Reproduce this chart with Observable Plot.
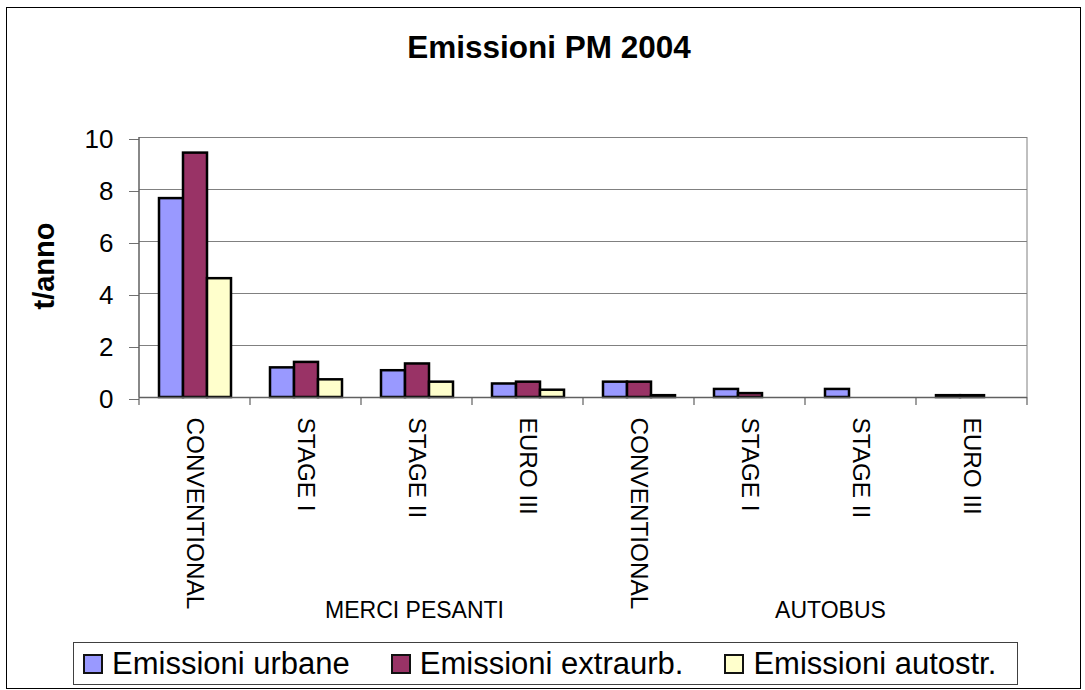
<!DOCTYPE html>
<html><head><meta charset="utf-8">
<script src="https://cdn.jsdelivr.net/npm/d3@7"></script>
<script src="https://cdn.jsdelivr.net/npm/@observablehq/plot@0.6"></script>
<style>
body{margin:0;background:#fff;}
#wrap{position:relative;width:1085px;height:690px;overflow:hidden;font-family:"Liberation Sans",Arial,sans-serif;color:#000;}
#border{position:absolute;left:6px;top:7px;width:1073px;height:680px;border:1px solid #000;}
#title{position:absolute;left:12px;width:1074px;top:32px;text-align:center;font-weight:bold;font-size:31.5px;line-height:31px;white-space:nowrap;}
#ylabel{position:absolute;left:44px;top:266px;transform:translate(-50%,-50%) rotate(-90deg);font-weight:bold;font-size:29px;line-height:29px;white-space:nowrap;}
#chart{position:absolute;left:0;top:0;}
#legend{position:absolute;left:73px;top:642px;width:943px;height:41px;border:1px solid #404040;display:flex;align-items:center;box-sizing:content-box;}
.item{display:flex;align-items:center;font-size:31px;line-height:31px;white-space:nowrap;}
.sw{width:20px;height:20px;box-sizing:border-box;border:2px solid #111;margin-right:9px;}
</style></head><body>
<div id="wrap">
  <div id="border"></div>
  <div id="chart"></div>
  <div id="title">Emissioni PM 2004</div>
  <div id="ylabel">t/anno</div>
  <div id="legend"></div>
</div>
<script>
const categories = ["CONVENTIONAL","STAGE I","STAGE II","EURO III","CONVENTIONAL","STAGE I","STAGE II","EURO III"];
const groups = ["MERCI PESANTI","AUTOBUS"];
const groupAt = [2, 6];
const series = ["Emissioni urbane","Emissioni extraurb.","Emissioni autostr."];
const colors = ["#9999FF","#993366","#FFFFCC"];
const urbane   = [7.65, 1.14, 1.03, 0.52, 0.59, 0.31, 0.31, 0.07];
const extraurb = [9.40, 1.35, 1.29, 0.59, 0.59, 0.15, 0.00, 0.07];
const autostr  = [4.57, 0.68, 0.59, 0.28, 0.07, 0.00, 0.00, 0.00];
const yTicks = [0, 2, 4, 6, 8, 10];

const seriesValues = [urbane, extraurb, autostr];
const rows = [];
categories.forEach((c, i) => {
  seriesValues.forEach((arr, j) => rows.push({ci: i, series: series[j], value: arr[i]}));
});
const groupRows = groups.map((g, i) => ({label: g, at: groupAt[i]}));

const chart = Plot.plot({
  width: 1085, height: 640,
  marginLeft: 135, marginRight: 55, marginTop: 137, marginBottom: 243,
  style: {fontFamily: '"Liberation Sans", Arial, sans-serif', background: "transparent", overflow: "visible", color: "black"},
  fx: {domain: d3.range(categories.length), padding: 0, axis: null},
  x: {domain: series, paddingInner: 0, paddingOuter: 0.74, axis: null},
  y: {domain: [0, 10], axis: null},
  color: {domain: series, range: colors},
  marks: [
    Plot.ruleY(yTicks.slice(1), {stroke: "#808080", strokeWidth: 1}),
    Plot.barY(rows.filter(d => d.value > 0), {fx: "ci", x: "series", y: "value", fill: "series", stroke: "black", strokeWidth: 2.5}),
    Plot.ruleY([0], {stroke: "#606060", strokeWidth: 1.5}),
    Plot.axisY({ticks: yTicks, tickSize: 10, tickPadding: 16, fontSize: 26, label: null, stroke: "#707070", fill: "black", dy: 2}),
    Plot.axisFx({anchor: "bottom", tickSize: 0, tickPadding: 20, tickRotate: 90, fontSize: 24.3, label: null, fill: "black", tickFormat: i => categories[i]}),
    Plot.text([groupRows[0]], {fx: "at", text: "label", frameAnchor: "bottom", dy: 220, dx: -2.5, fontSize: 23, fill: "black"}),
    Plot.text([groupRows[1]], {fx: "at", text: "label", frameAnchor: "bottom", dy: 220, dx: -30.5, fontSize: 23, fill: "black"})
  ]
});
document.getElementById("chart").appendChild(chart);

// axis frame lines and category boundary ticks, placed with Plot's own scales
const fxS = chart.scale("fx"), yS = chart.scale("y");
const y0 = yS.apply(0), y10 = yS.apply(10);
const xL = fxS.apply(0), xR = fxS.apply(categories.length - 1) + fxS.bandwidth;
const g = d3.select(chart).append("g").attr("stroke", "#606060").attr("fill", "none");
g.append("line").attr("x1", xL).attr("x2", xL).attr("y1", y10).attr("y2", y0).attr("stroke-width", 1.5);
g.append("line").attr("x1", xR).attr("x2", xR).attr("y1", y10).attr("y2", y0).attr("stroke", "#808080");
d3.range(categories.length + 1).forEach(k => {
  const x = k < categories.length ? fxS.apply(k) : xR;
  g.append("line").attr("x1", x).attr("x2", x).attr("y1", y0).attr("y2", y0 + 8).attr("stroke-width", 1.2);
});

// legend
const legend = d3.select("#legend");
series.forEach((s, i) => {
  const it = legend.append("div").attr("class", "item").style("margin-left", i === 0 ? "9px" : "41px");
  it.append("div").attr("class", "sw").style("background", colors[i]);
  it.append("span").text(s);
});
</script>
</body></html>
